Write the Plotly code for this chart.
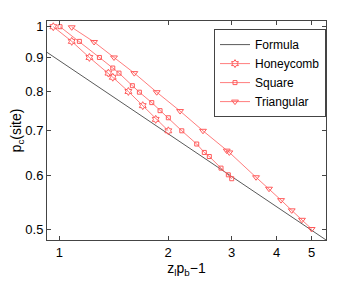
import plotly.graph_objects as go

# ---- data ----
formula_x = [0.924, 5.48]
formula_y = [0.916, 0.4816]

honey_x = [0.962, 1.082, 1.211, 1.367, 1.406, 1.553, 1.702, 1.849, 2.004]
honey_y = [1.0, 0.951, 0.900, 0.853, 0.841, 0.801, 0.763, 0.728, 0.700]

square_x = [1.004, 1.136, 1.291, 1.406, 1.463, 1.593, 1.666, 1.803, 1.901, 2.004,
            2.184, 2.402, 2.521, 2.603, 2.805, 2.939, 3.003]
square_y = [1.0, 0.951, 0.900, 0.868, 0.853, 0.817, 0.799, 0.771, 0.750, 0.732,
            0.700, 0.669, 0.650, 0.641, 0.616, 0.602, 0.594]

tri_x = [1.082, 1.248, 1.417, 1.613, 1.861, 2.160, 2.500, 2.909, 2.958, 3.507,
         3.810, 4.114, 4.404, 4.702, 5.0]
tri_y = [0.998, 0.949, 0.900, 0.853, 0.799, 0.749, 0.700, 0.654, 0.650, 0.597,
         0.574, 0.552, 0.533, 0.516, 0.500]

x_ticks = [1, 2, 3, 4, 5]
x_ticklabels = ["1", "2", "3", "4", "5"]
y_ticks = [0.5, 0.6, 0.7, 0.8, 0.9, 1.0]
y_ticklabels = ["0.5", "0.6", "0.7", "0.8", "0.9", "1"]

RED = "#ff5a5a"
FONT = "Liberation Sans, Arial, Helvetica, sans-serif"

fig = go.Figure()
fig.add_trace(go.Scatter(x=formula_x, y=formula_y, mode="lines", name="Formula",
                         line=dict(color="#5a5a5a", width=1)))
fig.add_trace(go.Scatter(x=honey_x, y=honey_y, mode="lines+markers", name="Honeycomb",
                         line=dict(color=RED, width=0.8),
                         marker=dict(symbol="hexagram-open", size=6, color=RED,
                                     line=dict(width=1, color=RED))))
fig.add_trace(go.Scatter(x=square_x, y=square_y, mode="lines+markers", name="Square",
                         line=dict(color=RED, width=0.8),
                         marker=dict(symbol="square-open", size=4, color=RED,
                                     line=dict(width=1, color=RED))))
fig.add_trace(go.Scatter(x=tri_x, y=tri_y, mode="lines+markers", name="Triangular",
                         line=dict(color=RED, width=0.8),
                         marker=dict(symbol="triangle-down-open", size=6, color=RED,
                                     line=dict(width=1, color=RED))))

axis_common = dict(showgrid=False, zeroline=False, showline=True, linecolor="#444444",
                   linewidth=1, mirror="allticks", ticks="inside", ticklen=4,
                   tickcolor="#444444", automargin=False,
                   tickfont=dict(size=13, color="#000000", family=FONT))

fig.update_xaxes(type="log", range=[-0.0343, 0.7388], tickvals=x_ticks,
                 ticktext=x_ticklabels,
                 title=dict(text="z<sub>l</sub>p<sub>b</sub>\u22121",
                            font=dict(size=14, family=FONT, color="#000"), standoff=4),
                 **axis_common)
fig.update_yaxes(type="log", range=[-0.3174, 0.0085], tickvals=y_ticks,
                 ticktext=y_ticklabels,
                 title=dict(text="p<sub>c</sub>(site)",
                            font=dict(size=14, family=FONT, color="#000"), standoff=4),
                 **axis_common)

# page body has an 8px margin, so the figure is drawn 8px smaller and offset
fig.update_layout(
    width=353, height=275,
    margin=dict(l=39, r=35, t=13, b=43, autoexpand=False),
    paper_bgcolor="white", plot_bgcolor="white",
    font=dict(family=FONT, color="#000"),
    legend=dict(x=1, xanchor="right", y=0.963, yanchor="top",
                bgcolor="white", bordercolor="#444444", borderwidth=1,
                font=dict(size=12, family=FONT, color="#000"),
                itemwidth=30, tracegroupgap=0),
    showlegend=True,
)

fig.write_html("out.html")
